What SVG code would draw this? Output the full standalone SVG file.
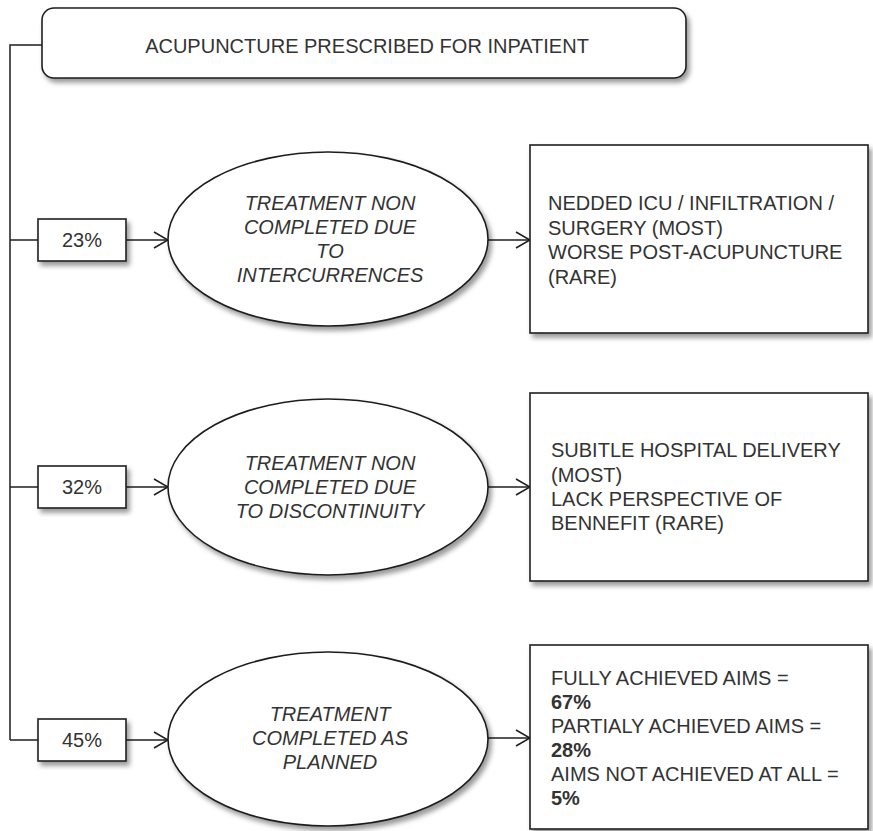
<svg xmlns="http://www.w3.org/2000/svg" width="873" height="831" viewBox="0 0 873 831">
  <defs>
    <style>
      text { font-family: "Liberation Sans", Arial, sans-serif; font-size: 20px; fill: #333; }
      .mid { text-anchor: middle; }
      .ital { font-style: italic; }
      .bold { font-weight: bold; }
      .shape { fill: #fff; stroke: #1e1e1e; stroke-width: 1.6; filter: url(#shadow); }
      .wire { fill: none; stroke: #1e1e1e; stroke-width: 1.5; }
      .arrow { fill: none; stroke: #1e1e1e; stroke-width: 1.5; marker-end: url(#open-arrow); }
    </style>
    <filter id="shadow" x="-10%" y="-10%" width="125%" height="130%">
      <feDropShadow dx="3" dy="4" stdDeviation="2.5" flood-color="#000" flood-opacity="0.4"/>
    </filter>
    <marker id="open-arrow" markerUnits="userSpaceOnUse" markerWidth="16" markerHeight="20" viewBox="0 0 16 20" refX="15" refY="10" orient="auto">
      <path d="M1,2 L15,10 L1,18" fill="none" stroke="#1e1e1e" stroke-width="1.6"/>
    </marker>
  </defs>

  <rect width="873" height="831" fill="#fff"/>

  <!-- connectors -->
  <g id="connectors">
    <polyline class="wire" points="42,45 10,45 10,740"/>
    <line class="wire" x1="10" y1="240" x2="38" y2="240"/>
    <line class="wire" x1="10" y1="487" x2="38" y2="487"/>
    <line class="wire" x1="10" y1="740" x2="38" y2="740"/>
    <line class="arrow" x1="126" y1="240" x2="168" y2="240"/>
    <line class="arrow" x1="126" y1="487" x2="168" y2="487"/>
    <line class="arrow" x1="126" y1="740" x2="168" y2="740"/>
    <line class="arrow" x1="488" y1="240" x2="530" y2="240"/>
    <line class="arrow" x1="488" y1="487" x2="530" y2="487"/>
    <line class="arrow" x1="488" y1="738" x2="530" y2="738"/>
  </g>

  <!-- root -->
  <g id="root">
    <rect class="shape" x="42" y="8" width="644" height="70" rx="12" ry="12"/>
    <text class="mid" x="367" y="53">ACUPUNCTURE PRESCRIBED FOR INPATIENT</text>
  </g>

  <!-- percentage labels -->
  <g id="pct-23">
    <rect class="shape" x="38" y="219" width="88" height="42"/>
    <text class="mid" x="82" y="247">23%</text>
  </g>
  <g id="pct-32">
    <rect class="shape" x="38" y="466" width="88" height="42"/>
    <text class="mid" x="82" y="494">32%</text>
  </g>
  <g id="pct-45">
    <rect class="shape" x="38" y="719" width="88" height="42"/>
    <text class="mid" x="82" y="747">45%</text>
  </g>

  <!-- outcomes -->
  <g id="outcome-intercurrences">
    <ellipse class="shape" cx="328" cy="239" rx="160" ry="87"/>
    <text class="mid ital" x="330" y="210">TREATMENT NON</text>
    <text class="mid ital" x="330" y="234">COMPLETED DUE</text>
    <text class="mid ital" x="330" y="258">TO</text>
    <text class="mid ital" x="330" y="282">INTERCURRENCES</text>
  </g>
  <g id="outcome-discontinuity">
    <ellipse class="shape" cx="328" cy="487" rx="160" ry="88"/>
    <text class="mid ital" x="330" y="470">TREATMENT NON</text>
    <text class="mid ital" x="330" y="494">COMPLETED DUE</text>
    <text class="mid ital" x="330" y="518">TO DISCONTINUITY</text>
  </g>
  <g id="outcome-completed">
    <ellipse class="shape" cx="328" cy="739" rx="160" ry="87"/>
    <text class="mid ital" x="330" y="721">TREATMENT</text>
    <text class="mid ital" x="330" y="745">COMPLETED AS</text>
    <text class="mid ital" x="330" y="769">PLANNED</text>
  </g>

  <!-- details -->
  <g id="detail-intercurrences">
    <rect class="shape" x="530" y="145" width="338" height="188"/>
    <text x="548" y="210">NEDDED ICU / INFILTRATION /</text>
    <text x="548" y="235">SURGERY (MOST)</text>
    <text x="548" y="259">WORSE POST-ACUPUNCTURE</text>
    <text x="548" y="284">(RARE)</text>
  </g>
  <g id="detail-discontinuity">
    <rect class="shape" x="530" y="393" width="338" height="188"/>
    <text x="551" y="457">SUBITLE HOSPITAL DELIVERY</text>
    <text x="551" y="482">(MOST)</text>
    <text x="551" y="506">LACK PERSPECTIVE OF</text>
    <text x="551" y="530">BENNEFIT (RARE)</text>
  </g>
  <g id="detail-completed">
    <rect class="shape" x="530" y="645" width="338" height="184"/>
    <text x="551" y="685">FULLY ACHIEVED AIMS =</text>
    <text class="bold" x="551" y="709">67%</text>
    <text x="551" y="733">PARTIALY ACHIEVED AIMS  =</text>
    <text class="bold" x="551" y="757">28%</text>
    <text x="551" y="781">AIMS NOT ACHIEVED AT ALL =</text>
    <text class="bold" x="551" y="805">5%</text>
  </g>
</svg>
